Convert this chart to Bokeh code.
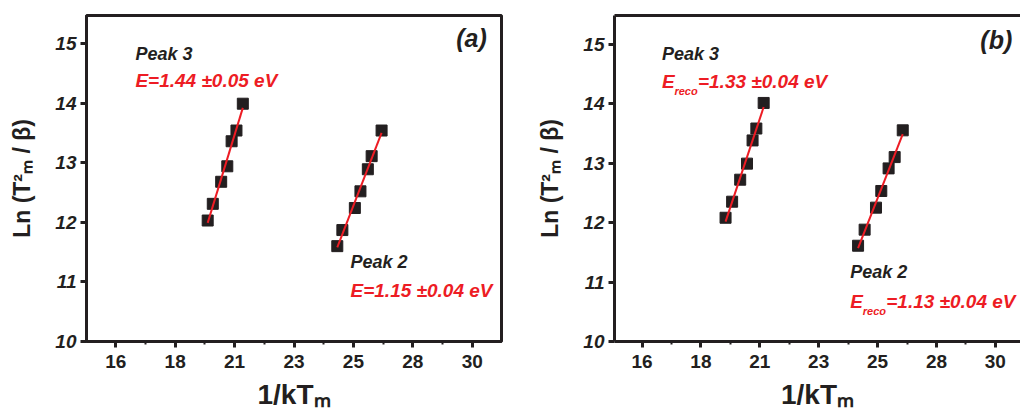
import numpy as np
from bokeh.plotting import figure
from bokeh.layouts import row
from bokeh.models import FixedTicker, Label, Range1d, LinearAxis, CustomJSTickFormatter
from bokeh.embed import file_html
from bokeh.resources import INLINE

# ---- data ----
a_peak3_x = [19.61, 19.81, 20.14, 20.38, 20.55, 20.74, 20.99]
a_peak3_y = [12.03, 12.31, 12.68, 12.94, 13.36, 13.54, 13.99]
a_peak2_x = [24.70, 24.90, 25.39, 25.61, 25.90, 26.05, 26.44]
a_peak2_y = [11.60, 11.87, 12.24, 12.52, 12.89, 13.11, 13.54]

b_peak3_x = [19.31, 19.57, 19.89, 20.16, 20.38, 20.53, 20.82]
b_peak3_y = [12.08, 12.35, 12.72, 12.99, 13.38, 13.58, 14.01]
b_peak2_x = [24.56, 24.82, 25.27, 25.48, 25.77, 26.01, 26.33]
b_peak2_y = [11.61, 11.88, 12.25, 12.53, 12.91, 13.10, 13.55]

x_tick_values = [16, 18 + 1 / 3, 20 + 2 / 3, 23, 25 + 1 / 3, 27 + 2 / 3, 30]
x_tick_labels = ["16", "18", "21", "23", "25", "28", "30"]
y_tick_values = [10, 11, 12, 13, 14, 15]

a_texts = ["Peak 3", "E=1.44 \u00b10.05 eV", "Peak 2", "E=1.15 \u00b10.04 eV", "(a)"]
b_texts = ["Peak 3", "=1.33 \u00b10.04 eV", "Peak 2", "=1.13 \u00b10.04 eV", "(b)"]

DARK = "#231f20"
RED = "#ed1c24"
FONT = "Liberation Sans"

x_minor = [(x_tick_values[i] + x_tick_values[i + 1]) / 2 for i in range(len(x_tick_values) - 1)]
fmt_code = """
const i = tick_vals.findIndex(t => Math.abs(t - tick) < 1e-6);
return i >= 0 ? tick_labels[i] : '';
"""


def style(p):
    p.grid.visible = False
    p.background_fill_color = "white"
    p.border_fill_color = "white"
    p.xaxis.ticker = FixedTicker(ticks=x_tick_values, minor_ticks=x_minor)
    p.xaxis.formatter = CustomJSTickFormatter(args=dict(tick_labels=x_tick_labels, tick_vals=x_tick_values), code=fmt_code)
    p.yaxis.ticker = FixedTicker(ticks=y_tick_values, minor_ticks=[])
    for ax in (p.xaxis[0], p.yaxis[0]):
        ax.axis_line_width = 3
        ax.axis_line_color = DARK
        ax.major_tick_line_width = 3
        ax.major_tick_line_color = DARK
        ax.major_tick_out = 6
        ax.major_tick_in = 0
        ax.minor_tick_line_width = 2
        ax.minor_tick_line_color = DARK
        ax.minor_tick_out = 3
        ax.minor_tick_in = 0
        ax.major_label_text_font = FONT
        ax.major_label_text_font_size = "19px"
        ax.major_label_text_color = DARK
        ax.axis_label_text_font = FONT
        ax.axis_label_text_font_style = "bold"
        ax.axis_label_text_color = DARK
    p.xaxis.major_label_text_font_style = "bold"
    p.yaxis.major_label_text_font_style = "bold italic"
    p.xaxis.major_label_standoff = 7
    p.yaxis.major_label_standoff = 4
    p.xaxis.axis_label = "1/kT\u2098"
    p.xaxis.axis_label_text_font_size = "28px"
    p.xaxis.axis_label_standoff = 8
    p.yaxis.axis_label = "Ln (T\u00b2\u2098 / \u03b2)"
    p.yaxis.axis_label_text_font_size = "23px"
    p.yaxis.axis_label_standoff = 17


def lab(p, x, y, text, color, size, align="left", xoff=0, yoff=0):
    p.add_layout(Label(x=x, y=y, text=text, text_color=color, text_font=FONT,
                       text_font_style="bold italic", text_font_size=f"{size}px",
                       text_align=align, text_baseline="middle", x_offset=xoff, y_offset=yoff))


def series(p, xs, ys):
    p.scatter(xs, ys, marker="square", size=11, color=DARK)
    k, b = np.polyfit(xs, ys, 1)
    fx = np.array([min(xs), max(xs)])
    p.line(fx, k * fx + b, color=RED, line_width=2)


# ---- panel (a) ----
p1 = figure(width=510, height=416, x_range=Range1d(14.85, 31.15), y_range=Range1d(10, 15.47),
            output_backend="svg", toolbar_location=None,
            min_border_left=86, min_border_right=9, min_border_top=11, min_border_bottom=75)
style(p1)
p1.outline_line_color = DARK
p1.outline_line_width = 3
series(p1, a_peak3_x, a_peak3_y)
series(p1, a_peak2_x, a_peak2_y)
lab(p1, 16.77, 14.82, a_texts[0], DARK, 18)
lab(p1, 16.77, 14.375, a_texts[1], RED, 19)
lab(p1, 25.22, 11.34, a_texts[2], DARK, 18)
lab(p1, 25.22, 10.86, a_texts[3], RED, 19)
lab(p1, 30.57, 15.10, a_texts[4], DARK, 25, align="right")

# ---- panel (b) ----
p2 = figure(width=510, height=416, x_range=Range1d(14.91, 14.91 + 406 / 25.24), y_range=Range1d(10, 15.48),
            output_backend="svg", toolbar_location=None,
            min_border_left=104, min_border_right=0, min_border_top=15, min_border_bottom=74)
style(p2)
p2.outline_line_color = None
top = LinearAxis(ticker=FixedTicker(ticks=[], minor_ticks=[]), major_label_text_font_size="0px",
                 axis_line_width=3, axis_line_color=DARK,
                 major_tick_line_color=None, minor_tick_line_color=None)
p2.add_layout(top, "above")
series(p2, b_peak3_x, b_peak3_y)
series(p2, b_peak2_x, b_peak2_y)
lab(p2, 16.79, 14.84, b_texts[0], DARK, 18)
lab(p2, 16.79, 14.37, "E", RED, 19)
lab(p2, 16.79, 14.37, "reco", RED, 11, xoff=12.5, yoff=-9)
lab(p2, 16.79, 14.37, b_texts[1], RED, 19, xoff=36)
lab(p2, 24.25, 11.16, b_texts[2], DARK, 18)
lab(p2, 24.25, 10.67, "E", RED, 19)
lab(p2, 24.25, 10.67, "reco", RED, 11, xoff=12.5, yoff=-9)
lab(p2, 24.25, 10.67, b_texts[3], RED, 19, xoff=36)
lab(p2, 30.67, 15.07, b_texts[4], DARK, 25, align="right")

layout = row(p1, p2)
open("out.html", "w").write(file_html(layout, INLINE))
